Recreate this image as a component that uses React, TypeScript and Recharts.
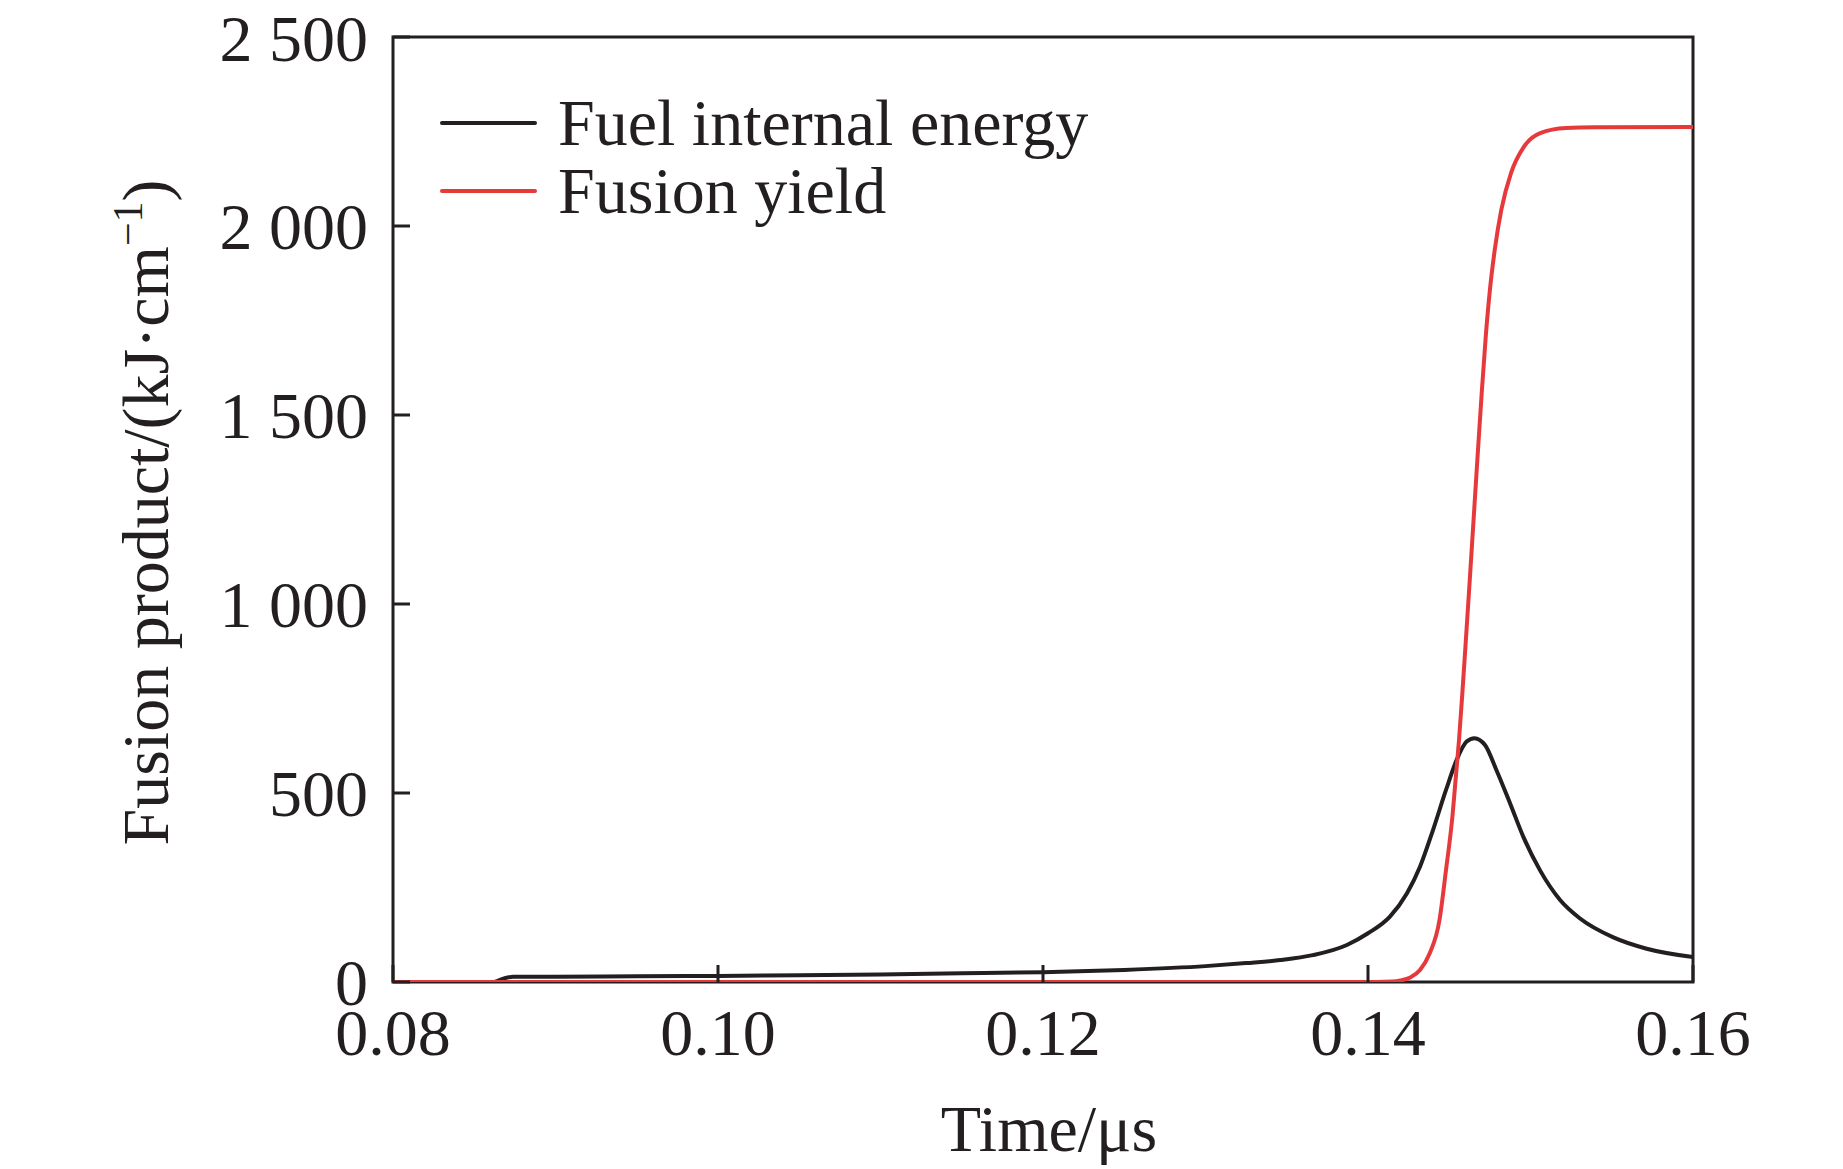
import React from 'react';
import { LineChart, Line, XAxis, YAxis, ReferenceArea, Legend, Label } from 'recharts';

const ink = '#231f20';
const red = '#e6393b';
const font = '"Liberation Serif", "Times New Roman", serif';

// fuel internal energy (kJ/cm)
const fuelTime = [
  0.08, 0.0862, 0.0868, 0.0874, 0.09, 0.095, 0.1, 0.105, 0.11, 0.115, 0.12, 0.125, 0.13, 0.1325, 0.1346,
  0.1366, 0.1387, 0.14, 0.14135, 0.1424, 0.1432, 0.144, 0.1448, 0.14545, 0.14607, 0.14655, 0.1472, 0.1479,
  0.14874, 0.14956, 0.15058, 0.15182, 0.15305, 0.1551, 0.15715, 0.16,
];
const fuelEnergy = [
  0, 0, 9, 14, 14, 15, 16, 18, 20, 23, 26, 32, 42, 50, 58,
  71, 98, 129, 173, 235, 305, 402, 508, 587, 636, 645, 627, 561,
  473, 384, 296, 217, 168, 118, 88, 66,
];

// fusion yield (kJ/cm)
const yieldTime = [
  0.08, 0.1405, 0.1415, 0.142, 0.1426, 0.1432, 0.1438, 0.1444, 0.1448, 0.1452, 0.1454, 0.1456, 0.1458,
  0.146, 0.14625, 0.1465, 0.14675, 0.147, 0.14725, 0.1475, 0.1478, 0.1482, 0.1488, 0.1496, 0.1506, 0.1522,
  0.154, 0.16,
];
const yieldValue = [
  0, 0, 1, 4, 12, 32, 76, 164, 296, 440, 540, 640, 760,
  890, 1055, 1225, 1395, 1560, 1710, 1830, 1937, 2042, 2140, 2210, 2246, 2259,
  2261, 2262,
];

const xTicks = [0.08, 0.1, 0.12, 0.14, 0.16];
const yTicks = [0, 500, 1000, 1500, 2000, 2500];

const seriesNames = { fuel: 'Fuel internal energy', fusion: 'Fusion yield' };

const fuelData = fuelTime.map((t, i) => ({ t, v: fuelEnergy[i] }));
const yieldData = yieldTime.map((t, i) => ({ t, v: yieldValue[i] }));

const fmtY = (v: number) => (v >= 1000 ? `${Math.floor(v / 1000)} ${String(v % 1000).padStart(3, '0')}` : String(v));

const tickStyle = { fontSize: 66, fontFamily: font, fill: ink };

function YTitle(props: any) {
  const vb = props.viewBox;
  const x = vb.x + vb.width - 225;
  const y = vb.y + vb.height / 2 + 3;
  return (
    <text x={x} y={y} transform={`rotate(-90, ${x}, ${y})`} textAnchor="middle" fontSize={66} fontFamily={font} fill={ink}>
      Fusion product/(kJ·cm
      <tspan dy={-26} fontSize={42}>−1</tspan>
      <tspan dy={26}>)</tspan>
    </text>
  );
}

function XTitle(props: any) {
  const vb = props.viewBox;
  return (
    <text x={vb.x + vb.width / 2 + 6} y={vb.y + 169} textAnchor="middle" fontSize={66} fontFamily={font} fill={ink}>
      Time/μs
    </text>
  );
}

function LegendBox() {
  const rows = [
    { name: seriesNames.fuel, color: ink },
    { name: seriesNames.fusion, color: red },
  ];
  return (
    <div style={{ fontFamily: font, fontSize: 66, color: ink }}>
      {rows.map((r) => (
        <div key={r.name} style={{ display: 'flex', alignItems: 'center', height: 68, lineHeight: '68px', whiteSpace: 'nowrap' }}>
          <span style={{ display: 'inline-block', width: 97, height: 4, background: r.color, borderRadius: 2, marginRight: 21 }} />
          <span>{r.name}</span>
        </div>
      ))}
    </div>
  );
}

export default function App() {
  return (
    <div style={{ position: 'absolute', left: 0, top: 0, width: 1843, height: 1169, background: '#fff' }}>
      <LineChart width={1843} height={1169} margin={{ top: 37, right: 150, bottom: 127, left: 313 }}>
        <XAxis
          type="number"
          dataKey="t"
          domain={[0.08, 0.16]}
          ticks={xTicks}
          tickFormatter={(v: number) => v.toFixed(2)}
          height={60}
          axisLine={false}
          tickSize={-17}
          tickMargin={43}
          tickLine={{ stroke: ink, strokeWidth: 3 }}
          tick={tickStyle}
          allowDataOverflow
        >
          <Label content={<XTitle />} />
        </XAxis>
        <YAxis
          type="number"
          domain={[0, 2500]}
          ticks={yTicks}
          tickFormatter={fmtY}
          width={80}
          axisLine={false}
          tickSize={-17}
          tickMargin={42}
          tickLine={{ stroke: ink, strokeWidth: 3 }}
          tick={tickStyle}
          allowDataOverflow
        >
          <Label content={<YTitle />} />
        </YAxis>
        <ReferenceArea x1={0.08} x2={0.16} y1={0} y2={2500} fill="none" stroke={ink} strokeWidth={3} fillOpacity={0} />
        <Legend
          layout="vertical"
          align="center"
          verticalAlign="middle"
          content={<LegendBox />}
          wrapperStyle={{ left: 440, top: 89, width: 'auto', height: 'auto' }}
        />
        <Line
          data={fuelData}
          dataKey="v"
          name={seriesNames.fuel}
          type="monotone"
          stroke={ink}
          strokeWidth={4}
          dot={false}
          isAnimationActive={false}
        />
        <Line
          data={yieldData}
          dataKey="v"
          name={seriesNames.fusion}
          type="monotone"
          stroke={red}
          strokeWidth={4}
          dot={false}
          isAnimationActive={false}
        />
      </LineChart>
    </div>
  );
}
